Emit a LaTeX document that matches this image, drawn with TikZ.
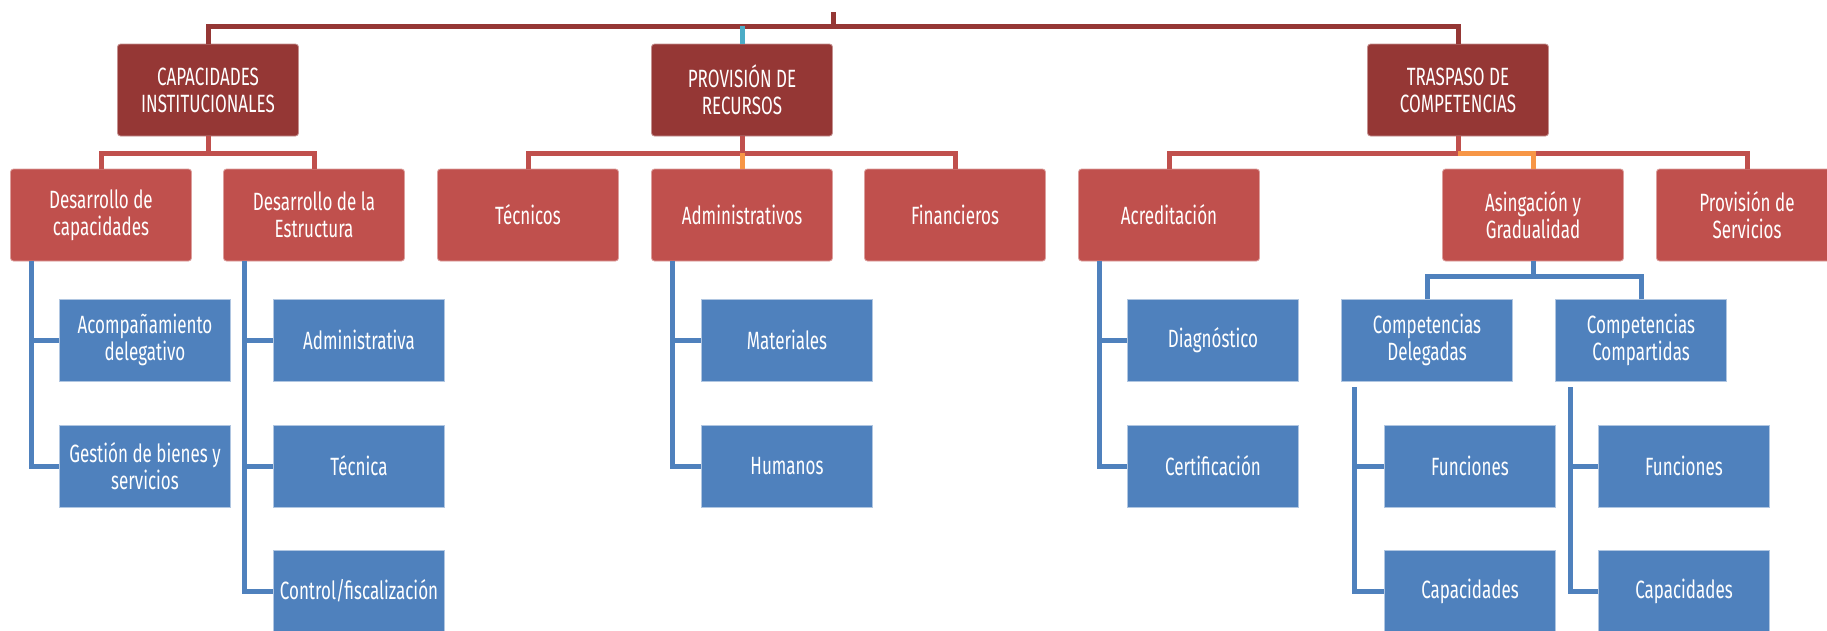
\documentclass[tikz,border=0pt]{standalone}
\usepackage{fontspec}
\setmainfont{Fira Sans}[FakeStretch=0.68]
\usetikzlibrary{calc}
\definecolor{dred}{HTML}{953735}
\definecolor{lred}{HTML}{C0504D}
\definecolor{lblue}{HTML}{4F81BD}
\definecolor{cyantwo}{HTML}{4BACC6}
\definecolor{orng}{HTML}{F79646}
\tikzset{
  boxbase/.style={text=white, align=center, inner sep=0pt, font=\fontsize{25}{27}\selectfont, execute at begin node={\spaceskip=4.5pt\relax}, line width=0.8pt},
  lvlone/.style={boxbase, fill=dred, draw=dred!55!white, rounded corners=3pt, minimum width=181pt, minimum height=92pt, text width=175pt},
  lvltwo/.style={boxbase, fill=lred, draw=lred!55!white, rounded corners=3pt, minimum width=181pt, minimum height=92pt, text width=175pt},
  lvlthree/.style={boxbase, fill=lblue, draw=lblue!45!white, minimum width=171pt, minimum height=82pt, text width=167pt},
  topline/.style={draw=dred, line width=5pt},
  redline/.style={draw=lred, line width=5pt},
  blueline/.style={draw=lblue, line width=5pt},
  cyanline/.style={draw=cyantwo, line width=5pt},
  orangeline/.style={draw=orng, line width=5pt},
}
\begin{document}
\begin{tikzpicture}[x=1pt,y=-1pt]
\clip (0,0) rectangle (1827,630);
\fill[white] (0,0) rectangle (1827,630);
% level 1
\node[lvlone] (cap)  at (208,90)  {CAPACIDADES\\INSTITUCIONALES};
\node[lvlone] (prov) at (742,90)  {PROVISIÓN DE\\RECURSOS};
\node[lvlone] (tras) at (1458,90) {TRASPASO DE\\COMPETENCIAS};
% level 2
\node[lvltwo] (dcap) at (101,215)  {Desarrollo de\\capacidades};
\node[lvltwo] (dest) at (314,215)  {Desarrollo de la\\Estructura};
\node[lvltwo] (tec)  at (528,215)  {Técnicos};
\node[lvltwo] (adm)  at (742,215)  {Administrativos};
\node[lvltwo] (fin)  at (955,215)  {Financieros};
\node[lvltwo] (acr)  at (1169,215) {Acreditación};
\node[lvltwo] (asg)  at (1533,215) {Asingación y\\Gradualidad};
\node[lvltwo] (psv)  at (1747,215) {Provisión de\\Servicios};
% level 3
\node[lvlthree] (acomp) at (145,340)  {Acompañamiento\\delegativo};
\node[lvlthree] (gest)  at (145,466)  {Gestión de bienes y\\servicios};
\node[lvlthree] (admva) at (359,340)  {Administrativa};
\node[lvlthree] (tecn)  at (359,466)  {Técnica};
\node[lvlthree] (ctrl)  at (359,591)  {Control/fiscalización};
\node[lvlthree] (mat)   at (787,340)  {Materiales};
\node[lvlthree] (hum)   at (787,466)  {Humanos};
\node[lvlthree] (diag)  at (1213,340) {Diagnóstico};
\node[lvlthree] (cert)  at (1213,466) {Certificación};
\node[lvlthree] (cdel)  at (1427,340) {Competencias\\Delegadas};
\node[lvlthree] (ccomp) at (1641,340) {Competencias\\Compartidas};
\node[lvlthree] (fun1)  at (1470,466) {Funciones};
\node[lvlthree] (capd1) at (1470,591) {Capacidades};
\node[lvlthree] (fun2)  at (1684,466) {Funciones};
\node[lvlthree] (capd2) at (1684,591) {Capacidades};
% top connectors
\coordinate (root) at (833,12);
\coordinate (hub) at (833,26);
\draw[topline] (root) -- (hub) -| (cap.north);
\draw[topline] (hub) -| (tras.north);
\draw[cyanline] (prov.north) -- (prov.north |- hub);
% level 2 connectors
\coordinate (ja) at ($(cap.south)+(0,17)$);
\draw[redline] (cap.south) -- (ja) -| (dcap.north);
\draw[redline] (ja) -| (dest.north);
\coordinate (jb) at ($(prov.south)+(0,17)$);
\draw[redline] (prov.south) -- (jb) -| (tec.north);
\draw[redline] (jb) -| (fin.north);
\draw[orangeline] (jb) -- (adm.north);
\coordinate (jc) at ($(tras.south)+(0,17)$);
\draw[redline] (tras.south) -- (jc) -| (acr.north);
\draw[redline] (jc) -| (psv.north);
\draw[orangeline] (jc) -| (asg.north);
% level 3 connectors
\coordinate (va) at ($(dcap.south west)+(21,0)$);
\draw[blueline] (va) |- (gest.west);
\draw[blueline] (va |- acomp.west) -- (acomp.west);
\coordinate (vb) at ($(dest.south west)+(21,0)$);
\draw[blueline] (vb) |- (ctrl.west);
\draw[blueline] (vb |- admva.west) -- (admva.west);
\draw[blueline] (vb |- tecn.west) -- (tecn.west);
\coordinate (vc) at ($(adm.south west)+(21,0)$);
\draw[blueline] (vc) |- (hum.west);
\draw[blueline] (vc |- mat.west) -- (mat.west);
\coordinate (vd) at ($(acr.south west)+(21,0)$);
\draw[blueline] (vd) |- (cert.west);
\draw[blueline] (vd |- diag.west) -- (diag.west);
\coordinate (je) at ($(asg.south)+(0,15)$);
\draw[blueline] (asg.south) -- (je) -| (cdel.north);
\draw[blueline] (je) -| (ccomp.north);
\coordinate (vf) at ($(cdel.south west)+(13,6)$);
\draw[blueline] (vf) |- (capd1.west);
\draw[blueline] (vf |- fun1.west) -- (fun1.west);
\coordinate (vg) at ($(ccomp.south west)+(15,6)$);
\draw[blueline] (vg) |- (capd2.west);
\draw[blueline] (vg |- fun2.west) -- (fun2.west);
\end{tikzpicture}
\end{document}
